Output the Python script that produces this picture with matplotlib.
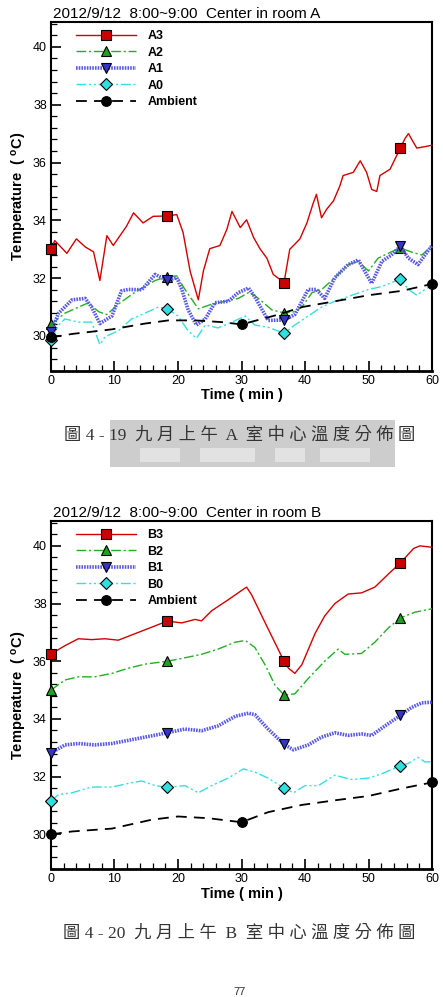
import numpy as np
import matplotlib
matplotlib.use("Agg")
import matplotlib.pyplot as plt
from matplotlib.lines import Line2D
from matplotlib.patches import Rectangle
from matplotlib.ticker import MultipleLocator

plt.rcParams["font.family"] = ["Liberation Sans", "DejaVu Sans"]

# ---- data (time in min, temperature in degC) ----
MK_S = [0, 18.3, 36.7, 55.0]      # sensor marker times
MK_AMB = [0, 30.0, 60.0]          # ambient marker times

# room A
tA3 = [0, 0.6, 2.5, 4.0, 5.4, 6.7, 7.7, 8.8, 9.8, 11.9, 13.0, 14.5, 16.1, 18.3, 19.8, 20.8, 21.9, 23.2, 24.0,
       25.0, 26.6, 27.7, 28.5, 29.8, 30.8, 31.9, 32.9, 34.0, 35.0, 36.7, 37.6, 38.2, 39.2, 40.3, 41.3, 41.8,
       42.6, 43.4, 44.5, 45.5, 46.0, 47.6, 48.7, 49.7, 50.5, 51.3, 51.8, 53.4, 55.0, 55.8, 56.3, 56.8, 57.6,
       58.9, 60.0]
vA3 = [33.0, 33.3, 32.86, 33.36, 33.08, 32.91, 31.92, 33.47, 33.13, 33.8, 34.26, 33.91, 34.14, 34.15, 34.2,
       33.58, 32.25, 31.25, 32.25, 33.02, 33.13, 33.69, 34.31, 33.75, 34.02, 33.41, 33.02, 32.69, 32.13, 31.85,
       33.0, 33.13, 33.36, 33.91, 34.6, 34.9, 34.09, 34.38, 34.68, 35.2, 35.55, 35.66, 36.06, 35.66, 35.07, 35.0,
       35.55, 35.77, 36.5, 36.85, 37.0, 36.8, 36.5, 36.55, 36.6]
tA2 = [0, 2.2, 5.9, 7.5, 8.8, 10.6, 13.2, 16.4, 18.3, 19.8, 21.1, 23.2, 25.3, 27.4, 29.5, 31.1, 32.1, 33.2,
       34.8, 36.7, 38.4, 39.5, 41.1, 42.6, 44.7, 46.8, 48.4, 50.0, 51.5, 53.1, 55.0, 56.8, 58.4, 60.0]
vA2 = [30.4, 30.79, 31.15, 30.84, 30.74, 31.1, 31.51, 31.92, 32.05, 32.08, 31.61, 30.94, 31.1, 31.2, 31.3,
       31.5, 31.4, 31.2, 30.9, 30.8, 30.84, 31.0, 31.5, 31.6, 32.02, 32.47, 32.58, 32.25, 32.69, 32.86, 33.05,
       32.9, 32.8, 33.13]
tA1 = [0, 1.2, 3.3, 5.4, 6.4, 7.7, 9.6, 11.1, 12.2, 14.3, 16.4, 18.3, 19.8, 20.6, 21.6, 22.9, 24.3, 25.8,
       27.9, 29.5, 31.1, 32.1, 34.2, 36.7, 38.4, 40.5, 41.8, 43.1, 44.7, 46.8, 48.4, 50.5, 52.1, 53.6, 55.0,
       56.3, 57.8, 60.0]
vA1 = [30.15, 30.79, 31.25, 31.3, 31.0, 30.43, 30.69, 31.56, 31.61, 31.6, 32.13, 31.92, 32.02, 31.61, 30.9,
       30.38, 30.59, 31.15, 31.2, 31.5, 31.66, 31.35, 30.54, 30.55, 30.74, 31.61, 31.61, 31.3, 32.02, 32.47,
       32.63, 31.82, 32.58, 32.8, 33.1, 32.69, 32.47, 33.13]
tA0 = [0, 1.2, 2.2, 4.3, 6.4, 7.7, 8.5, 10.6, 12.7, 14.8, 16.9, 18.3, 20.0, 21.6, 22.9, 24.3, 26.3, 28.5,
       30.6, 32.1, 34.2, 36.7, 38.4, 40.5, 42.6, 44.7, 47.4, 50.0, 52.1, 55.0, 56.3, 57.6, 58.9, 60.0]
vA0 = [29.85, 30.38, 30.59, 30.48, 30.48, 29.7, 29.97, 30.18, 30.59, 30.79, 31.0, 30.95, 30.69, 30.18, 29.92,
       30.38, 30.28, 30.48, 30.69, 30.38, 30.3, 30.1, 30.38, 30.69, 31.0, 31.2, 31.41, 31.61, 31.71, 31.97,
       31.61, 31.41, 31.61, 31.77]
tAamb = [0, 3.3, 9.6, 14.8, 18.5, 22.7, 26.9, 30.0, 35.8, 39.5, 44.7, 50.0, 55.2, 60.0]
vAamb = [29.95, 30.07, 30.23, 30.43, 30.54, 30.54, 30.48, 30.4, 30.74, 31.0, 31.2, 31.41, 31.56, 31.8]

# room B
tB3 = [0, 2.2, 4.3, 6.4, 8.5, 10.6, 12.7, 14.8, 16.9, 18.3, 20.6, 22.7, 23.7, 25.3, 27.9, 30.0, 30.8, 31.6,
       33.2, 34.8, 36.7, 37.4, 38.4, 39.5, 41.6, 43.1, 44.7, 46.8, 48.9, 51.0, 53.4, 55.0, 57.1, 58.1, 60.0]
vB3 = [36.25, 36.54, 36.78, 36.75, 36.78, 36.73, 36.91, 37.09, 37.27, 37.39, 37.33, 37.45, 37.4, 37.75,
       38.13, 38.45, 38.57, 38.3, 37.57, 36.85, 36.0, 35.76, 35.58, 35.88, 36.97, 37.57, 38.0, 38.33, 38.37,
       38.57, 39.08, 39.4, 39.91, 40.0, 39.95]
tB2 = [0, 2.2, 4.3, 6.9, 9.6, 12.2, 14.8, 18.3, 21.1, 23.7, 26.3, 29.0, 30.6, 32.1, 33.7, 35.3, 36.7, 38.4,
       40.5, 43.1, 45.2, 46.3, 48.9, 51.0, 53.1, 55.0, 57.3, 60.0]
vB2 = [35.0, 35.35, 35.46, 35.46, 35.58, 35.76, 35.9, 36.0, 36.12, 36.24, 36.42, 36.66, 36.72, 36.48, 35.88,
       35.16, 34.83, 34.87, 35.4, 36.0, 36.42, 36.24, 36.27, 36.66, 37.15, 37.5, 37.7, 37.82]
tB1 = [0, 2.2, 4.3, 6.9, 9.6, 12.2, 14.8, 18.3, 21.1, 23.7, 26.3, 29.0, 31.1, 32.1, 34.2, 36.7, 38.2, 40.5,
       42.6, 44.7, 46.8, 48.9, 50.5, 52.6, 55.0, 56.8, 58.4, 60.0]
vB1 = [32.82, 33.1, 33.15, 33.1, 33.15, 33.26, 33.37, 33.52, 33.65, 33.59, 33.76, 34.09, 34.2, 34.15, 33.65,
       33.12, 32.93, 33.1, 33.37, 33.52, 33.43, 33.48, 33.43, 33.76, 34.12, 34.4, 34.56, 34.58]
tB0 = [0, 1.2, 3.3, 6.4, 9.6, 12.7, 14.3, 16.4, 18.3, 21.1, 23.2, 25.3, 27.9, 30.3, 32.1, 34.2, 36.7, 38.2,
       40.0, 42.1, 44.7, 47.4, 50.0, 52.1, 55.0, 56.3, 57.8, 58.9, 60.0]
vB0 = [31.15, 31.38, 31.44, 31.64, 31.64, 31.79, 31.85, 31.69, 31.63, 31.69, 31.44, 31.69, 31.95, 32.27,
       32.16, 31.95, 31.6, 31.44, 31.69, 31.69, 32.05, 31.9, 31.95, 32.1, 32.38, 32.46, 32.67, 32.51, 32.52]
tBamb = [0, 3.3, 9.6, 15.9, 20.0, 24.8, 30.0, 34.2, 39.5, 44.7, 50.0, 55.2, 60.0]
vBamb = [30.0, 30.1, 30.2, 30.51, 30.62, 30.56, 30.42, 30.77, 31.02, 31.18, 31.33, 31.59, 31.8]

# ---- styles (Tecplot look) ----
STY = [
    dict(color="#d40000", lw=1.0, marker="s", mfc="#cc0000", ms=6.5),
    dict(color="#22b022", dashes=(7, 2, 1.5, 2), lw=1.0, marker="^", mfc="#1fa01f", ms=7),
    dict(color="#5a5ae6", dashes=(0.45, 0.3), lw=2.6, marker="v", mfc="#3434c8", ms=7),
    dict(color="#33e0e0", dashes=(7, 2, 1.5, 2, 1.5, 2), lw=1.0, marker="D", mfc="#2ee0e0", ms=6),
    dict(color="black", dashes=(6, 4), lw=1.3, marker="o", mfc="black", ms=7),
]

fig = plt.figure(figsize=(4.43, 9.97), dpi=100)


def styled(st):
    kw = dict(st)
    return kw.pop("dashes", None), kw


def panel(rect, title, names, series):
    ax = fig.add_axes(rect)
    for (t, v), st, nm in zip(series, STY, names):
        mk = MK_AMB if nm == "Ambient" else MK_S
        dsh, kw = styled(st)
        ln, = ax.plot(t, v, markevery=[t.index(m) for m in mk], mec="black", mew=0.8,
                      clip_on=False, zorder=3, **kw)
        if dsh is not None:
            ln.set_dashes(dsh)
    ax.set_xlim(0, 60)
    ax.set_ylim(28.8, 40.86)
    ax.xaxis.set_major_locator(MultipleLocator(10))
    ax.xaxis.set_minor_locator(MultipleLocator(2))
    ax.yaxis.set_major_locator(MultipleLocator(2))
    ax.yaxis.set_minor_locator(MultipleLocator(0.4))
    ax.tick_params(which="both", direction="in", top=False, right=False, labelsize=9, pad=3)
    ax.tick_params(which="major", length=7, width=1.2)
    ax.tick_params(which="minor", length=4, width=0.9)
    for s in ax.spines.values():
        s.set_linewidth(1.5)
    ax.spines["bottom"].set_linewidth(2.0)
    ax.set_xlabel("Time ( min )", fontsize=10.5, fontweight="bold", labelpad=1)
    ax.set_ylabel(r"Temperature  ( $\mathregular{^{o}}$C)", fontsize=10.5, fontweight="bold", labelpad=3)
    ax.set_title(title, fontsize=11, loc="left", x=0.005, pad=3)
    handles = []
    for st in STY:
        dsh, kw = styled(st)
        h = Line2D([], [], mec="black", mew=0.8, **kw)
        if dsh is not None:
            h.set_dashes(dsh)
        handles.append(h)
    ax.legend(handles, names, loc="upper left", bbox_to_anchor=(0.045, 1.0), frameon=False,
              numpoints=1, handlelength=4.8, handletextpad=0.9, labelspacing=0.36,
              prop=dict(weight="bold", size=9), borderaxespad=0.25)
    return ax


panel([0.1151, 0.6282, 0.8601, 0.3497], "2012/9/12  8:00~9:00  Center in room A",
      ["A3", "A2", "A1", "A0", "Ambient"],
      [(tA3, vA3), (tA2, vA2), (tA1, vA1), (tA0, vA0), (tAamb, vAamb)])
panel([0.1151, 0.1284, 0.8601, 0.3490], "2012/9/12  8:00~9:00  Center in room B",
      ["B3", "B2", "B1", "B0", "Ambient"],
      [(tB3, vB3), (tB2, vB2), (tB1, vB1), (tB0, vB0), (tBamb, vBamb)])

# watermark behind the first caption
fig.patches.append(Rectangle((110 / 443, 1 - 467 / 997), 285 / 443, 47 / 997, transform=fig.transFigure,
                             facecolor="#cdcdcd", edgecolor="none", zorder=0))
for x0, w in [(140, 40), (200, 55), (275, 30), (320, 50)]:
    fig.patches.append(Rectangle((x0 / 443, 1 - 462 / 997), w / 443, 14 / 997, transform=fig.transFigure,
                                 facecolor="#e2e2e2", edgecolor="none", zorder=0))

cap_font = ["Liberation Serif", "Noto Sans CJK TC"]
fig.text(0.54, 1 - 436 / 997, "圖 4 - 19  九 月 上 午  A  室 中 心 溫 度 分 佈 圖", ha="center", va="center",
         fontsize=12.5, color="#333333", family=cap_font, zorder=5)
fig.text(0.54, 1 - 934 / 997, "圖 4 - 20  九 月 上 午  B  室 中 心 溫 度 分 佈 圖", ha="center", va="center",
         fontsize=12.5, color="#333333", family=cap_font, zorder=5)
fig.text(0.54, 1 - 992 / 997, "77", ha="center", va="center", fontsize=8, color="#333333")

fig.savefig("out.png", dpi=100, facecolor="white")
